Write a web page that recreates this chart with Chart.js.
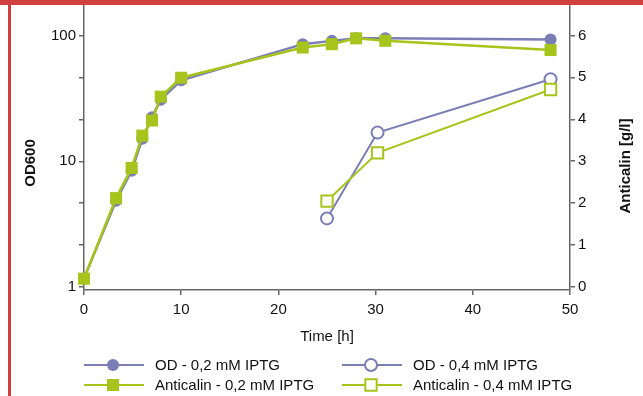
<!DOCTYPE html>
<html>
<head>
<meta charset="utf-8">
<script src="https://cdn.jsdelivr.net/npm/chart.js@4"></script>
<style>
html, body { margin: 0; padding: 0; background: #fff; }
#cadre { position: relative; width: 643px; height: 396px; overflow: hidden; }
#barreHaut { position: absolute; left: 0; top: 0; width: 643px; height: 5px; background: #d1403f; }
#barreGauche { position: absolute; left: 8px; top: 0; width: 3px; height: 396px; background: #d1403f; }
canvas { position: absolute; left: 0; top: 0; }
</style>
</head>
<body>
<div id="cadre">
    <div id="barreHaut"></div>
    <div id="barreGauche"></div>
    <canvas id="graphique" width="643" height="396"></canvas>
</div>
<script>
// Valeurs
const temps02 = [0, 3.3, 4.9, 6, 7, 7.9, 10, 22.5, 25.5, 28, 31, 48]
const od02 = [1.17, 4.86, 8.4, 15.1, 22.4, 30.9, 44, 85.4, 90.7, 95, 95, 93]
const anticalin02 = [0.2, 2.12, 2.84, 3.61, 3.97, 4.54, 4.99, 5.71, 5.79, 5.93, 5.87, 5.65]
const temps04 = [25, 30.2, 48]
const od04 = [3.51, 16.9, 44.9]
const anticalin04 = [2.05, 3.2, 4.71]

// Graduations
const ticksTemps = [0, 10, 20, 30, 40, 50]
const ticksOD = [1, 10, 100]
const ticksODSecondaires = [2.15, 4.64, 21.5, 46.4]
const ticksAnticalin = [0, 1, 2, 3, 4, 5, 6]

const violet = "#7b7eb5"
const vert = "#a6c41c"
const gris = "#666666"
const police = "'Liberation Sans', Arial, sans-serif"

function points(xs, ys) {
    return xs.map((x, i) => ({ x: x, y: ys[i] }))
}

// titres des axes verticaux + legende (2 colonnes, ligne + marqueur)
const decor = {
    id: "decor",
    afterDraw(chart) {
        const ctx = chart.ctx
        ctx.save()
        ctx.fillStyle = "#111"
        ctx.font = "bold 15px " + police
        ctx.textAlign = "center"
        ctx.textBaseline = "middle"
        ctx.translate(31, 163)
        ctx.rotate(-Math.PI / 2)
        ctx.fillText("OD600", 0, 0)
        ctx.restore()

        ctx.save()
        ctx.fillStyle = "#111"
        ctx.font = "bold 15px " + police
        ctx.textAlign = "center"
        ctx.textBaseline = "middle"
        ctx.translate(626, 166)
        ctx.rotate(-Math.PI / 2)
        ctx.fillText("Anticalin [g/l]", 0, 0)
        ctx.restore()

        const positions = [[84, 365], [342, 365], [84, 385], [342, 385]]
        chart.data.datasets.forEach((ds) => {
            const [x0, y0] = positions[ds.legendePos]
            ctx.save()
            ctx.strokeStyle = ds.borderColor
            ctx.lineWidth = 2
            ctx.beginPath()
            ctx.moveTo(x0, y0)
            ctx.lineTo(x0 + 60, y0)
            ctx.stroke()
            ctx.fillStyle = ds.pointBackgroundColor
            ctx.strokeStyle = ds.borderColor
            ctx.lineWidth = ds.pointBorderWidth
            ctx.beginPath()
            if (ds.pointStyle === "circle") {
                ctx.arc(x0 + 29, y0, ds.pointRadius, 0, Math.PI * 2)
            } else {
                const s = ds.pointRadius * Math.SQRT1_2
                ctx.rect(x0 + 29 - s, y0 - s, 2 * s, 2 * s)
            }
            ctx.fill()
            if (ds.pointBorderWidth > 0) ctx.stroke()
            ctx.fillStyle = "#111"
            ctx.font = "15px " + police
            ctx.textAlign = "left"
            ctx.textBaseline = "middle"
            ctx.fillText(ds.label, x0 + 71, y0 + 1)
            ctx.restore()
        })
    }
}

const graduation = {
    color: gris,
    lineWidth: 1.5,
    drawOnChartArea: false,
    tickLength: 5
}

function axeVertical(largeur) {
    return (s) => {
        s.width = largeur
        s.paddingTop = 0
        s.paddingBottom = 0
    }
}

const canvas = document.getElementById("graphique")
const graphique = new Chart(canvas, {
    type: "line",
    data: {
        datasets: [
            {
                label: "Anticalin - 0,2 mM IPTG",
                data: points(temps02, anticalin02),
                yAxisID: "y2",
                borderColor: vert,
                backgroundColor: vert,
                borderWidth: 2.5,
                pointStyle: "rect",
                pointRadius: 8.5,
                pointHoverRadius: 8.5,
                pointBackgroundColor: vert,
                pointBorderWidth: 0,
                order: 0,
                legendePos: 2,
                clip: false
            },
            {
                label: "OD - 0,2 mM IPTG",
                data: points(temps02, od02),
                yAxisID: "y",
                borderColor: violet,
                backgroundColor: violet,
                borderWidth: 2.5,
                pointStyle: "circle",
                pointRadius: 6,
                pointHoverRadius: 6,
                pointBackgroundColor: violet,
                pointBorderWidth: 0,
                order: 1,
                legendePos: 0,
                clip: false
            },
            {
                label: "Anticalin - 0,4 mM IPTG",
                data: points(temps04, anticalin04),
                yAxisID: "y2",
                borderColor: vert,
                backgroundColor: "#fff",
                borderWidth: 2,
                pointStyle: "rect",
                pointRadius: 8,
                pointHoverRadius: 8,
                pointBackgroundColor: "#fff",
                pointBorderColor: vert,
                pointBorderWidth: 2,
                order: 2,
                legendePos: 3,
                clip: false
            },
            {
                label: "OD - 0,4 mM IPTG",
                data: points(temps04, od04),
                yAxisID: "y",
                borderColor: violet,
                backgroundColor: "#fff",
                borderWidth: 2,
                pointStyle: "circle",
                pointRadius: 6,
                pointHoverRadius: 6,
                pointBackgroundColor: "#fff",
                pointBorderColor: violet,
                pointBorderWidth: 2,
                order: 3,
                legendePos: 1,
                clip: false
            }
        ]
    },
    options: {
        responsive: false,
        animation: false,
        events: [],
        // autoPadding desactive sinon la taille des points repousse le haut du graphique
        layout: { autoPadding: false, padding: { top: 6, left: 0, right: 0, bottom: 0 } },
        plugins: {
            legend: { display: false },
            tooltip: { enabled: false }
        },
        scales: {
            x: {
                type: "linear",
                min: 0,
                max: 50,
                grid: graduation,
                border: { color: gris, width: 1.5 },
                afterBuildTicks: (s) => { s.ticks = ticksTemps.map(v => ({ value: v })) },
                afterFit: (s) => {
                    s.height = 106
                    s.paddingLeft = 0
                    s.paddingRight = 0
                },
                ticks: { color: "#111", font: { size: 15, family: police }, padding: 6, maxRotation: 0 },
                title: {
                    display: true,
                    text: "Time [h]",
                    color: "#111",
                    font: { size: 15, family: police },
                    padding: { bottom: 50, top: 0 }
                }
            },
            y: {
                type: "logarithmic",
                position: "left",
                min: 0.946,
                max: 171.8,
                grid: graduation,
                border: { color: gris, width: 1.5 },
                afterBuildTicks: (s) => {
                    s.ticks = ticksOD.concat(ticksODSecondaires).sort((a, b) => a - b).map(v => ({ value: v }))
                },
                afterFit: axeVertical(84),
                ticks: {
                    color: "#111",
                    font: { size: 15, family: police },
                    padding: 3,
                    callback: (v) => ticksOD.includes(v) ? String(v) : ""
                }
            },
            y2: {
                type: "linear",
                position: "right",
                min: -0.07,
                max: 6.7,
                grid: graduation,
                border: { color: gris, width: 1.5 },
                afterBuildTicks: (s) => { s.ticks = ticksAnticalin.map(v => ({ value: v })) },
                afterFit: axeVertical(73),
                ticks: { color: "#111", font: { size: 15, family: police }, padding: 3 }
            }
        }
    },
    plugins: [decor]
})
</script>
</body>
</html>
